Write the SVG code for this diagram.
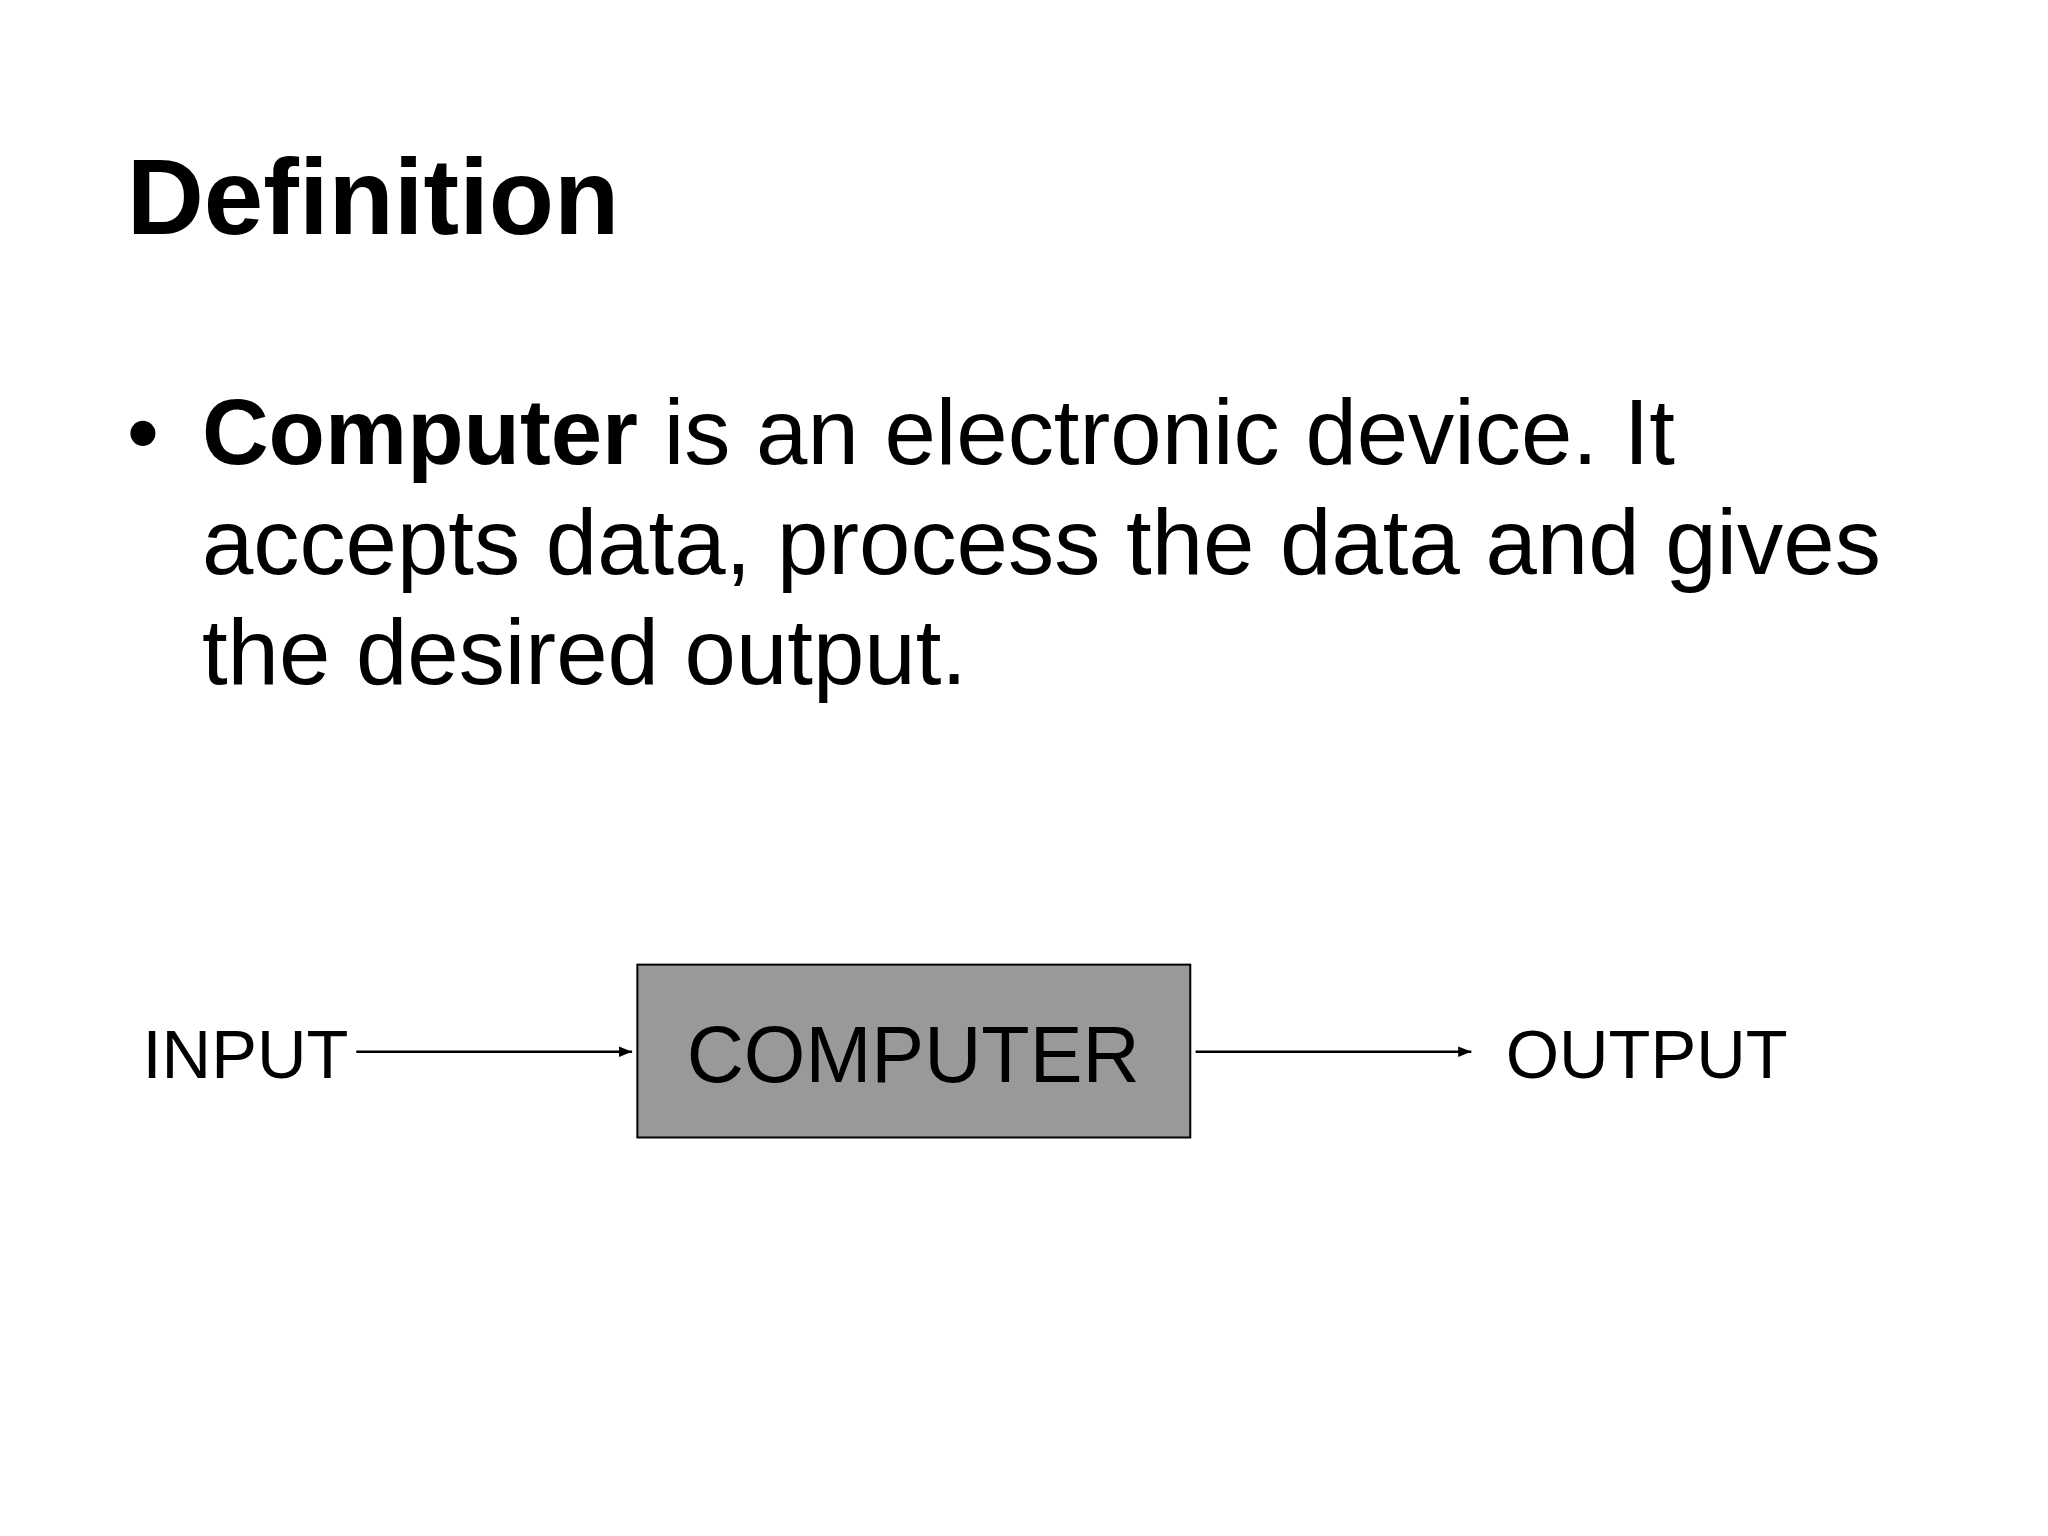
<svg xmlns="http://www.w3.org/2000/svg" width="2048" height="1536" viewBox="0 0 2048 1536">
<style>
text{font-family:"Liberation Sans",Arial,sans-serif;fill:#000}
.lbl{font-size:52px}
</style>
<defs><marker id="ah" markerWidth="10" markerHeight="8" refX="10" refY="4" orient="auto" markerUnits="userSpaceOnUse"><path d="M0,0 L10,4 L0,8 Z" fill="#000"/></marker></defs>
<rect width="2048" height="1536" fill="#fff"/>
<g transform="scale(1.3196)">
<g id="title"><text x="96" y="177" font-size="81" font-weight="bold">Definition</text></g>
<g id="body" font-size="70">
<text x="96" y="352" style="font-size:70px">•</text>
<text x="153" y="352" style="font-size:70px"><tspan font-weight="bold">Computer</tspan> is an electronic device. It</text>
<text x="153" y="435" style="font-size:70px">accepts data, process the data and gives</text>
<text x="153" y="518" style="font-size:70px">the desired output.</text>
</g>
<g id="input"><text class="lbl" x="108" y="817">INPUT</text></g>
<g id="computer"><rect x="483" y="731" width="419" height="131" fill="#999999" stroke="#000" stroke-width="1.5"/><text x="692" y="820" text-anchor="middle" style="font-size:60px">COMPUTER</text></g>
<g id="output"><text class="lbl" x="1141" y="817">OUTPUT</text></g>
<g id="connectors" stroke="#000" stroke-width="2">
<line x1="270" y1="797" x2="479" y2="797" marker-end="url(#ah)"/>
<line x1="906" y1="797" x2="1115" y2="797" marker-end="url(#ah)"/>
</g>
</g>
</svg>
